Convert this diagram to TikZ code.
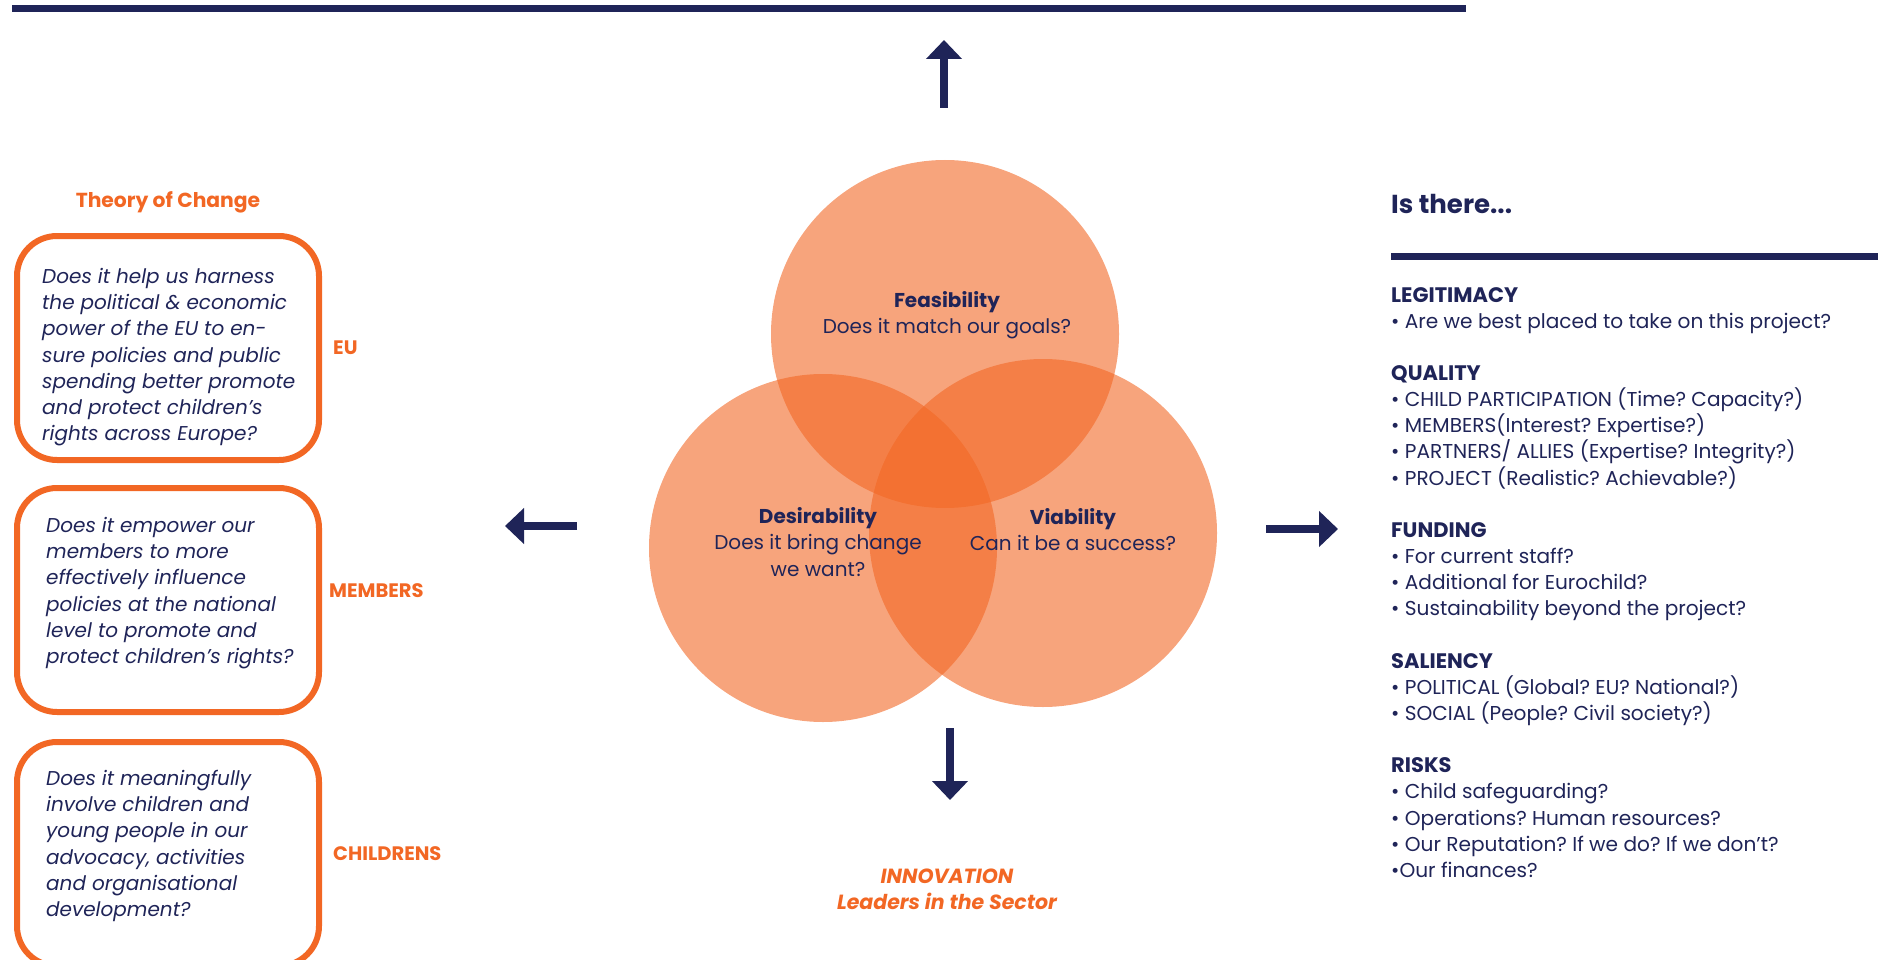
\documentclass[tikz,border=0pt]{standalone}
\usepackage{fontspec}
\setmainfont{Poppins}
\usepackage{tikz}
\usetikzlibrary{arrows.meta}
\usetikzlibrary{positioning}
\definecolor{navy}{RGB}{31,36,88}
\definecolor{ecorange}{RGB}{242,103,36}
\frenchspacing
\tikzstyle{venn} = [circle, fill=ecorange, fill opacity=0.6, minimum size=348pt, inner sep=0pt]
\tikzstyle{question} = [rectangle, draw=ecorange, line width=6pt, rounded corners=40pt,
    minimum width=302pt, minimum height=224pt]
\tikzstyle{qtext} = [anchor=north west, align=left, inner sep=0pt, text=navy,
    font=\fontsize{20}{26.2}\selectfont\itshape]
\tikzstyle{tag} = [text=ecorange, inner sep=0pt, font=\fontsize{19.5}{23}\selectfont\bfseries]
\tikzstyle{vtext} = [anchor=north, align=center, inner sep=0pt, text=navy,
    font=\fontsize{20}{26.5}\selectfont]
\tikzstyle{item} = [anchor=base west, inner sep=0pt, text=navy, font=\fontsize{20.1}{26}\selectfont]
\tikzstyle{bigarrow} = [draw=navy, line width=8pt, -{Triangle[width=35pt,length=19pt]}]
\newcommand{\head}[1]{{\fontsize{21}{26}\selectfont\bfseries #1}}

\begin{document}
\begin{tikzpicture}[x=1pt,y=-1pt]
    \useasboundingbox (0,0) rectangle (1881,960);
    % Top rule
    \draw[navy, line width=7pt] (12,9) -- (1466,9);
    % Venn circles
    \node[venn] (feas) at (945,334) {};
    \node[venn] (desir) at (823,548) {};
    \node[venn] (viab) at (1043,533) {};
    \node[vtext] (feastext) at (947,291) {\bfseries Feasibility\\Does it match our goals?};
    \node[vtext] (desirtext) at (818,507) {\bfseries Desirability\\Does it bring change\\we want?};
    \node[vtext] (viabtext) at (1073,508) {\bfseries Viability\\Can it be a success?};
    % Arrows
    \coordinate (upfrom) at (944,108);
    \coordinate (upto) at (944,40);
    \coordinate (downfrom) at (950,728);
    \coordinate (downto) at (950,800);
    \coordinate (leftfrom) at (577,526);
    \coordinate (leftto) at (505,526);
    \coordinate (rightfrom) at (1266,529);
    \coordinate (rightto) at (1338,529);
    \draw[bigarrow] (upfrom) -- (upto);
    \draw[bigarrow] (downfrom) -- (downto);
    \draw[bigarrow] (leftfrom) -- (leftto);
    \draw[bigarrow] (rightfrom) -- (rightto);
    \node[tag, font=\fontsize{20.5}{26}\selectfont\bfseries\itshape, align=center] (innov) at (947,889)
        {INNOVATION\\Leaders in the Sector};
    % Theory of change
    \node[question] (eu) at (168,348) {};
    \node[question] (members) at (168,600) {};
    \node[question] (children) at (168,854) {};
    \node[tag, font=\fontsize{20.3}{26}\selectfont\bfseries] (toc) at (168,202) {Theory of Change};
    \node[tag, right=11pt of eu] (eutag) {EU};
    \node[tag, anchor=west] (memtag) at (329,591) {MEMBERS};
    \node[tag, right=11pt of children] (chtag) {CHILDRENS};
    \node[qtext] (eutext) at (42,268) {Does it help us harness\\the political \& economic\\power of the EU to en-\\sure policies and public\\spending better promote\\and protect children’s\\rights across Europe?};
    \node[qtext] (memtext) at (46,517) {Does it empower our\\members to more\\effectively influence\\policies at the national\\level to promote and\\protect children’s rights?};
    \node[qtext] (chtext) at (46,770) {Does it meaningfully\\involve children and\\young people in our\\advocacy, activities\\and organisational\\development?};
    % Is there...
    \node[item, font=\fontsize{26}{30}\selectfont\bfseries] (isthere) at (1391,213) {Is there...};
    \draw[navy, line width=7pt] (1391,256) -- (1878,256);
    \foreach \k/\txt in {0/{\head{LEGITIMACY}}, 1/{• Are we best placed to take on this project?},
        3/{\head{QUALITY}}, 4/{• CHILD PARTICIPATION (Time? Capacity?)},
        5/{• MEMBERS(Interest? Expertise?)}, 6/{• PARTNERS/ ALLIES (Expertise? Integrity?)},
        7/{• PROJECT (Realistic? Achievable?)},
        9/{\head{FUNDING}}, 10/{• For current staff?}, 11/{• Additional for Eurochild?},
        12/{• Sustainability beyond the project?},
        14/{\head{SALIENCY}}, 15/{• POLITICAL (Global? EU? National?)},
        16/{• SOCIAL (People? Civil society?)},
        18/{\head{RISKS}}, 19/{• Child safeguarding?}, 20/{• Operations? Human resources?},
        21/{• Our Reputation? If we do? If we don’t?}, 22/{•Our finances?}}
        \node[item] (r\k) at (1391,302+26.15*\k) {\txt};
\end{tikzpicture}
\end{document}
